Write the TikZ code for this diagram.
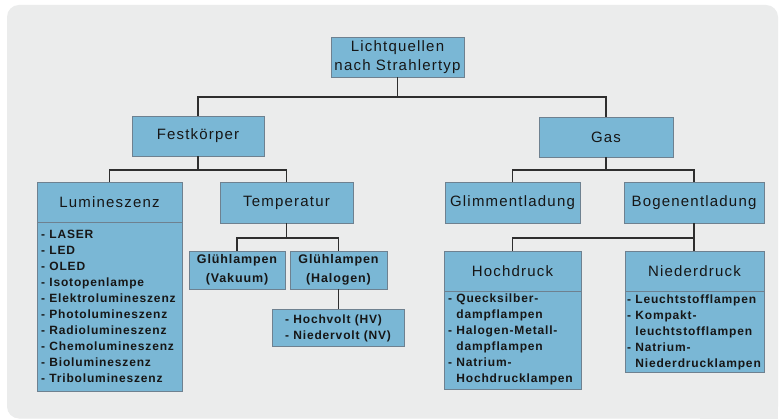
\documentclass[tikz,border=0pt]{standalone}
\usepackage{fontspec}
\setmainfont{Liberation Sans}
\newfontfamily\hfont[LetterSpace=8]{Liberation Sans}
\newfontfamily\bfont[LetterSpace=7]{Liberation Sans}
\definecolor{bgc}{HTML}{EBECEC}
\definecolor{boxc}{HTML}{7AB7D5}
\definecolor{bordc}{HTML}{6E8190}
\definecolor{linec}{HTML}{2E2E2E}
\definecolor{txtc}{HTML}{161616}
\tikzset{
 box/.style={draw=bordc, fill=boxc, line width=0.9pt, inner sep=0pt, align=center, text=txtc},
 head/.style={box, font=\hfont\fontsize{15}{19}\selectfont},
 small/.style={box, font=\bfont\bfseries\fontsize{12.5}{19}\selectfont},
 listtext/.style={inner sep=0pt, align=left, anchor=base west, text=txtc, font=\bfont\bfseries\fontsize{12}{16.1}\selectfont},
 conn/.style={draw=linec, line width=1.3pt},
}
\begin{document}
\begin{tikzpicture}[x=1pt,y=-1pt]
\useasboundingbox (0,0) rectangle (779,419);
\fill[white] (0,0) rectangle (779,419);
\fill[bgc, rounded corners=12pt] (7,5) rectangle (778,418.5);
\fill[bgc] (700,300) rectangle (778,419);
% main boxes
\node[head, minimum width=133, minimum height=40] (root) at (397.5,57) {Lichtquellen\\nach Strahlertyp};
\node[head, minimum width=132, minimum height=40] (fest) at (198,136) {Festkörper};
\node[head, minimum width=134, minimum height=40] (gas) at (606,137) {Gas};
\node[head, minimum width=145, minimum height=40] (lumh) at (109.5,202) {Lumineszenz};
\node[box, minimum width=145, minimum height=169] (lumb) at (109.5,306.5) {};
\node[head, minimum width=133, minimum height=41] (temp) at (286.5,202.5) {Temperatur};
\node[small, minimum width=96, minimum height=38] (vak) at (237,270) {Glühlampen\\(Vakuum)};
\node[small, minimum width=97, minimum height=38] (hal) at (338.5,270) {Glühlampen\\(Halogen)};
\node[box, minimum width=132, minimum height=37] (hv) at (338,327.5) {};
\node[head, minimum width=135, minimum height=41] (glimm) at (512.5,202.5) {Glimmentladung};
\node[head, minimum width=140, minimum height=41] (bogen) at (694,202.5) {Bogenentladung};
\node[head, minimum width=137, minimum height=40] (hochh) at (512.5,271) {Hochdruck};
\node[box, minimum width=137, minimum height=98] (hochb) at (512.5,340) {};
\node[head, minimum width=139, minimum height=40] (niedh) at (694.5,271) {Niederdruck};
\node[box, minimum width=139, minimum height=81] (niedb) at (694.5,331.5) {};
% list texts (anchor = baseline of last line)
\node[listtext] (lumt) at (41,383) {- LASER\\- LED\\- OLED\\- Isotopenlampe\\- Elektrolumineszenz\\- Photolumineszenz\\- Radiolumineszenz\\- Chemolumineszenz\\- Biolumineszenz\\- Tribolumineszenz};
\node[listtext] (hvt) at (285,340) {- Hochvolt (HV)\\- Niedervolt (NV)};
\node[listtext] (hocht) at (448,383) {- Quecksilber-\\\hphantom{- }dampflampen\\- Halogen-Metall-\\\hphantom{- }dampflampen\\- Natrium-\\\hphantom{- }Hochdrucklampen};
\node[listtext] (niedt) at (627,368) {- Leuchtstofflampen\\- Kompakt-\\\hphantom{- }leuchtstofflampen\\- Natrium-\\\hphantom{- }Niederdrucklampen};
% connectors
\coordinate (j1) at (0,97);
\coordinate (j2) at (0,170);
\coordinate (j3) at (0,238);
\draw[conn] (root.south) -- (root.south |- j1);
\draw[conn] (fest.north) |- (root.south |- j1) -| (gas.north);
\draw[conn] (fest.south) -- (fest.south |- j2);
\draw[conn] (lumh.north) |- (fest.south |- j2) -| (temp.north);
\draw[conn] (gas.south) -- (gas.south |- j2);
\draw[conn] (glimm.north) |- (gas.south |- j2) -| (bogen.north);
\draw[conn] (temp.south) -- (temp.south |- j3);
\draw[conn] (vak.north) |- (temp.south |- j3) -| (hal.north);
\draw[conn] (hal.south) -- (hal.south |- hv.north);
\draw[conn] (bogen.south) -- (bogen.south |- niedh.north);
\draw[conn] (hochh.north) |- (bogen.south |- j3);
\end{tikzpicture}
\end{document}
